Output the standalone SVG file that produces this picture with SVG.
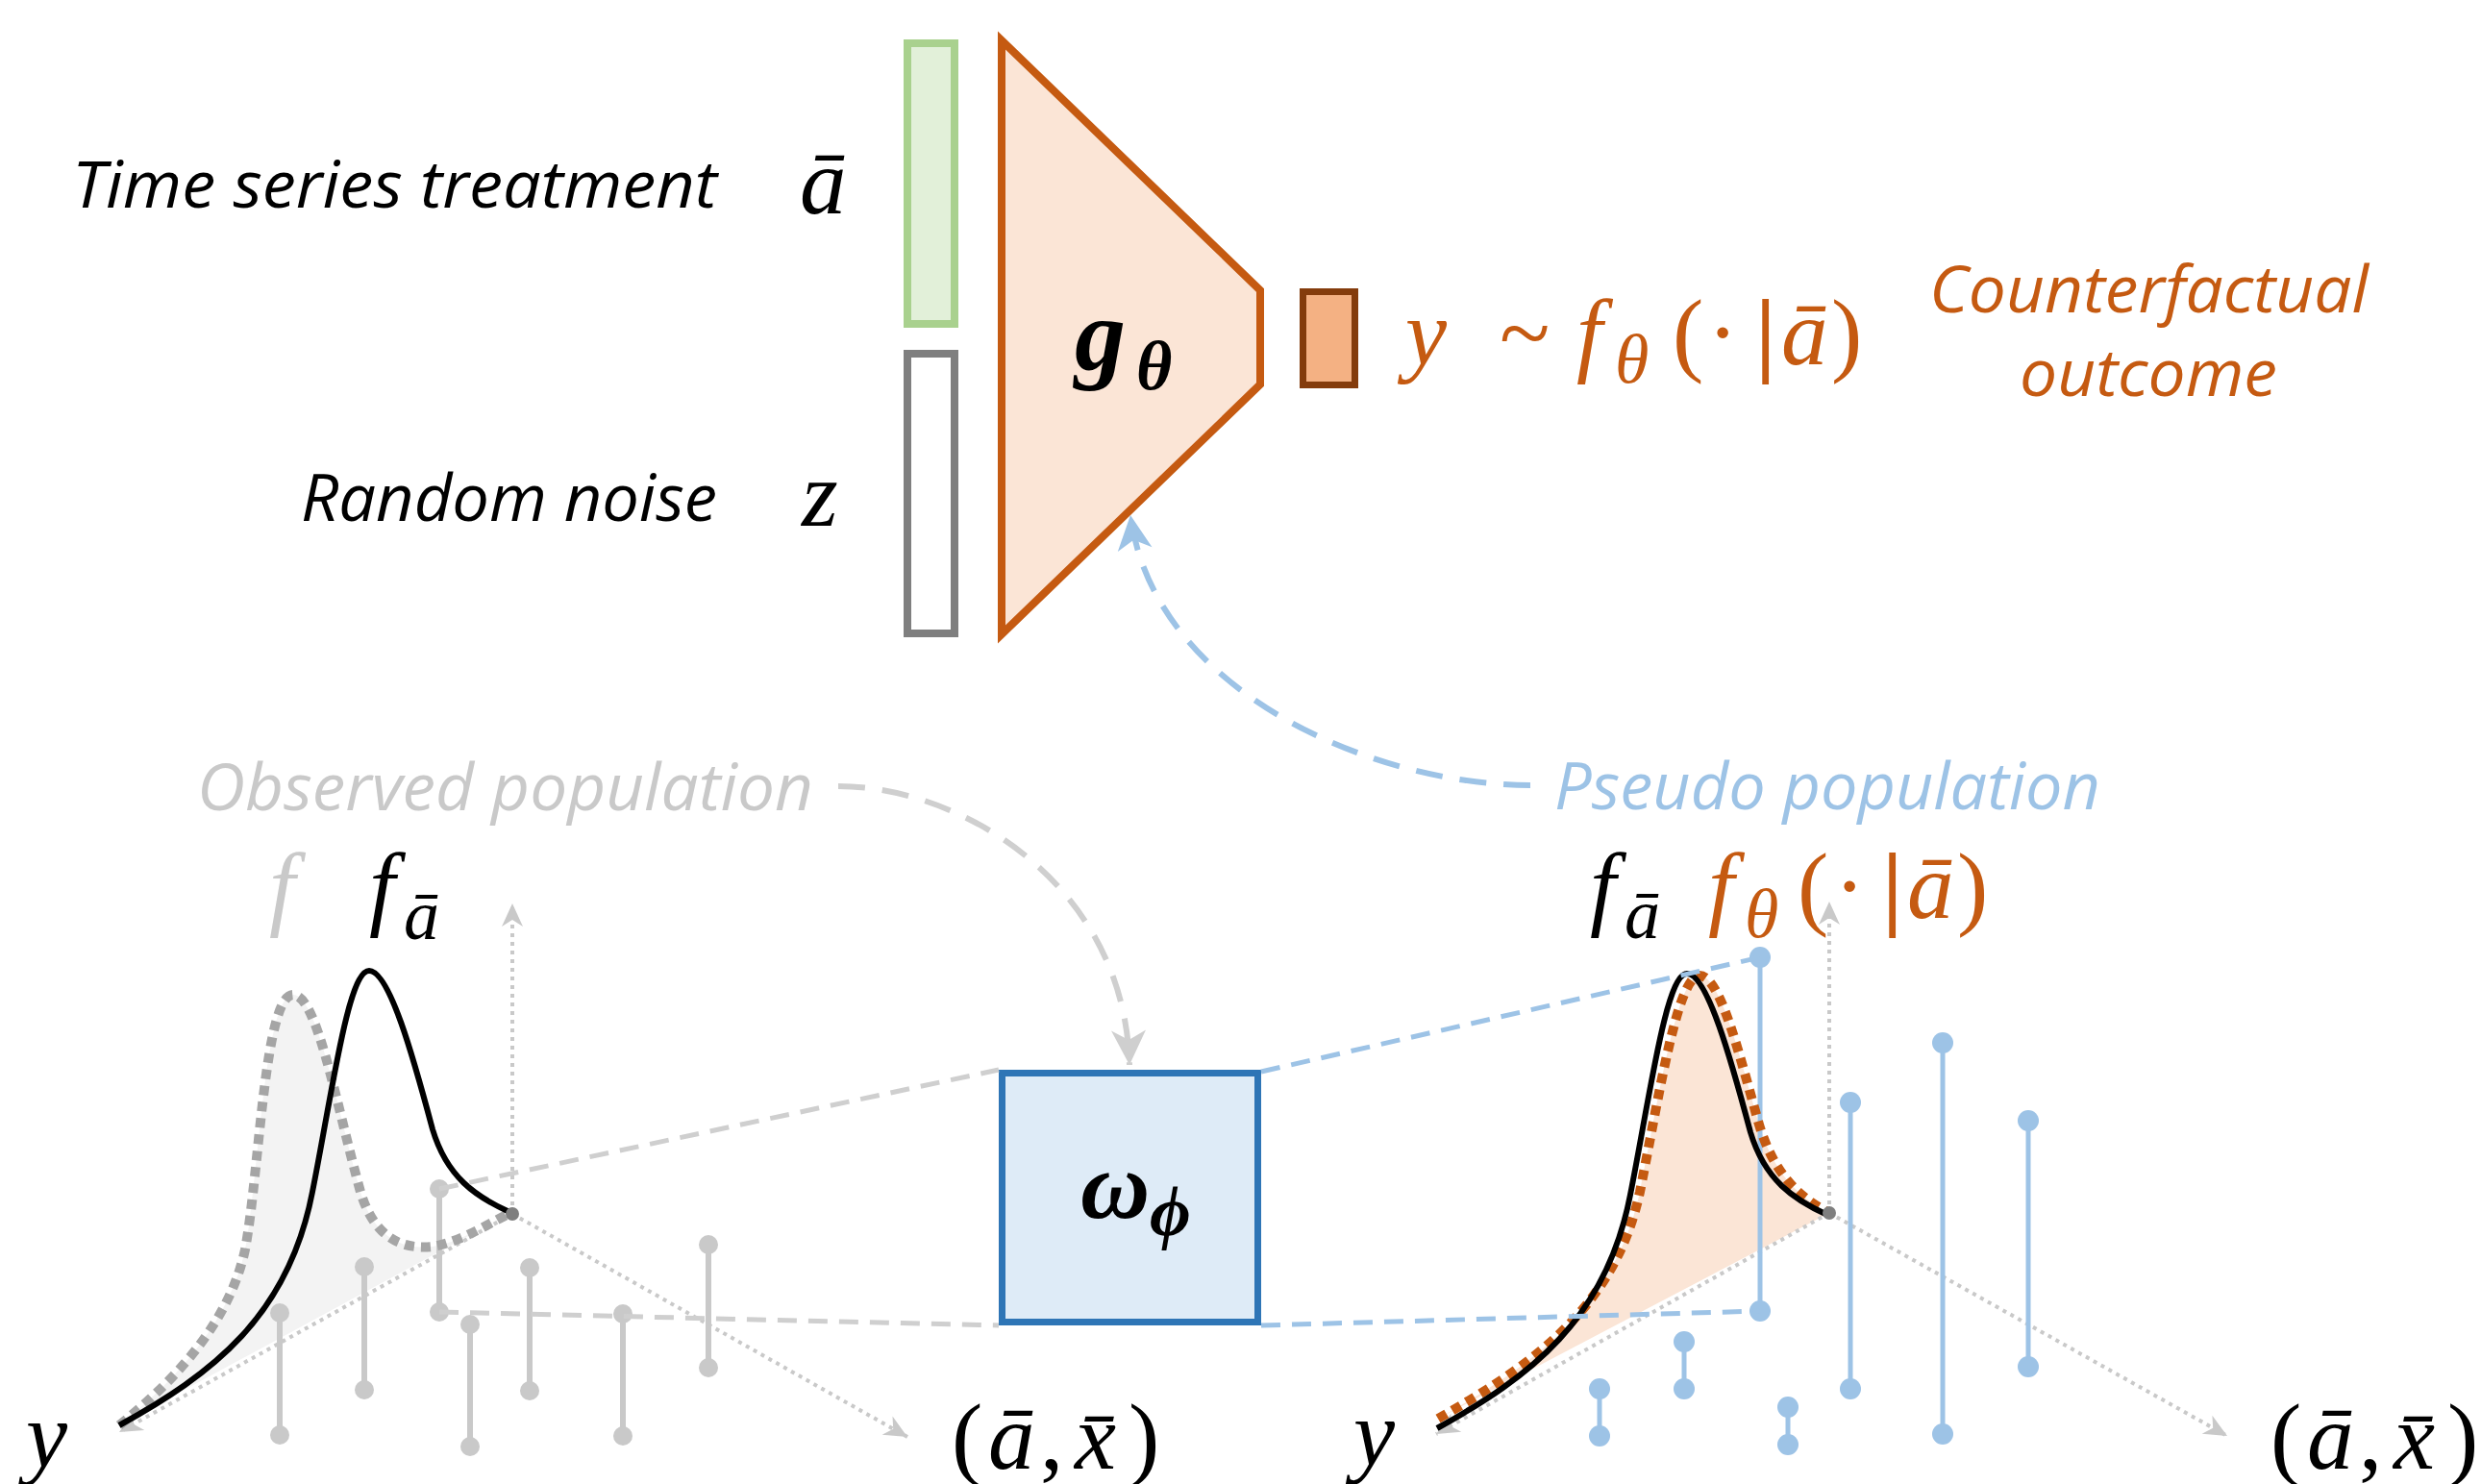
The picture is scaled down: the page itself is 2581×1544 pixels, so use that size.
<svg xmlns="http://www.w3.org/2000/svg" width="2581" height="1544" viewBox="0 0 2581 1544">
<style>
.lbl{font-family:"Open Sans","Liberation Sans",sans-serif;font-style:italic;font-size:68px}
.m{font-family:"Liberation Serif","DejaVu Serif",serif;font-style:italic;font-size:97px}
.up{font-style:normal}
.sub{font-size:74px}
.bm{font-family:"Liberation Serif","DejaVu Serif",serif;font-style:italic;font-weight:bold}
.axis{fill:none;stroke:#C9C9C9;stroke-width:4;stroke-dasharray:4 5}
.gstem{stroke:#C9C9C9;stroke-width:6}
.gdot{fill:#C9C9C9}
.bstem{stroke:#9DC3E6;stroke-width:5}
.bdot{fill:#9DC3E6}
.gdash{fill:none;stroke:#CFCFCF;stroke-width:5;stroke-dasharray:20 12}
.bdash{fill:none;stroke:#9DC3E6;stroke-width:5;stroke-dasharray:20 12}
</style>
<defs>
<marker id="axArrow" markerUnits="userSpaceOnUse" viewBox="-26 -13 28 26" markerWidth="28" markerHeight="26" refX="0" refY="0" orient="auto">
<path d="M0,0 L-24,-11 L-17,0 L-24,11 Z" fill="#C9C9C9"/>
</marker>
<marker id="grayArrow" markerUnits="userSpaceOnUse" viewBox="-38 -20 40 40" markerWidth="40" markerHeight="40" refX="0" refY="0" orient="auto">
<path d="M0,0 L-36,-18 L-26,0 L-36,18 Z" fill="#CFCFCF"/>
</marker>
<marker id="blueArrow" markerUnits="userSpaceOnUse" viewBox="-38 -20 40 40" markerWidth="40" markerHeight="40" refX="0" refY="0" orient="auto">
<path d="M0,0 L-36,-18 L-26,0 L-36,18 Z" fill="#9DC3E6"/>
</marker>
</defs>
<rect width="2581" height="1544" fill="#FFFFFF"/>

<g id="label-treatment">
<text class="lbl" x="75" y="216" textLength="671" lengthAdjust="spacingAndGlyphs">Time series treatment</text>
<text class="m" x="832" y="222" font-size="100">ā</text>
</g>
<g id="label-noise">
<text class="lbl" x="313" y="542" textLength="433" lengthAdjust="spacingAndGlyphs">Random noise</text>
<text class="m" x="834" y="547" font-size="100">z</text>
</g>

<g id="input-a"><rect x="944" y="45" width="49" height="292" fill="#E2F0D9" stroke="#A9D18E" stroke-width="8"/></g>
<g id="input-z"><rect x="944" y="368" width="49" height="291" fill="#FFFFFF" stroke="#7F7F7F" stroke-width="8"/></g>

<g id="generator">
<polygon points="1042,42 1311,302 1311,400 1042,660" fill="#FBE5D6" stroke="#C55A11" stroke-width="8" stroke-linejoin="miter"/>
<text class="bm" x="1118" y="384" font-size="106">g<tspan x="1182" y="405" font-size="72">θ</tspan></text>
</g>

<g id="output">
<rect x="1355.5" y="303.5" width="54" height="97" fill="#F4B183" stroke="#843C0C" stroke-width="7"/>
<text class="m" y="379" fill="#C55A11"><tspan x="1462">y</tspan><tspan class="up" x="1560">~</tspan><tspan x="1640">f</tspan><tspan x="1680" y="398" font-size="72">θ</tspan><tspan class="up" x="1740" y="379">(</tspan><tspan class="up" x="1776">·</tspan><tspan class="up" x="1826" font-weight="bold">|</tspan><tspan x="1853">ā</tspan><tspan class="up" x="1905">)</tspan></text>
</g>

<g id="label-counterfactual">
<text class="lbl" x="2007" y="325" fill="#C55A11" textLength="457" lengthAdjust="spacingAndGlyphs">Counterfactual</text>
<text class="lbl" x="2101" y="412" fill="#C55A11" textLength="268" lengthAdjust="spacingAndGlyphs">outcome</text>
</g>

<g id="label-observed">
<text class="lbl" x="205" y="843" fill="#C9C9C9" textLength="641" lengthAdjust="spacingAndGlyphs">Observed population</text>
</g>
<g id="label-pseudo">
<text class="lbl" x="1617" y="842" fill="#9DC3E6" textLength="568" lengthAdjust="spacingAndGlyphs">Pseudo population</text>
</g>

<g id="weight-net">
<rect x="1042.5" y="1116.5" width="266" height="259" fill="#DEEBF7" stroke="#2E75B6" stroke-width="7"/>
<text class="bm" x="1124" y="1267" font-size="100">ω<tspan x="1196" y="1285" font-size="74">ϕ</tspan></text>
</g>

<g id="observed-plot">
<path d="M124 1483 C190 1430 240 1370 255 1300 C270 1220 275 1035 305 1035 C330 1035 350 1150 375 1240 C390 1290 420 1300 450 1297 C480 1292 510 1272 531 1262 Z" fill="#F3F3F3"/>
<path class="axis" d="M533 1263 L533 940" marker-end="url(#axArrow)"/>
<path class="axis" d="M533 1263 L124 1490" marker-end="url(#axArrow)"/>
<path class="axis" d="M533 1263 L944 1495" marker-end="url(#axArrow)"/>
<g>
<line class="gstem" x1="291" y1="1366" x2="291" y2="1493"/><circle class="gdot" cx="291" cy="1366" r="10"/><circle class="gdot" cx="291" cy="1493" r="10"/>
<line class="gstem" x1="379" y1="1318" x2="379" y2="1446"/><circle class="gdot" cx="379" cy="1318" r="10"/><circle class="gdot" cx="379" cy="1446" r="10"/>
<line class="gstem" x1="457" y1="1237" x2="457" y2="1365"/><circle class="gdot" cx="457" cy="1237" r="10"/><circle class="gdot" cx="457" cy="1365" r="10"/>
<line class="gstem" x1="489" y1="1378" x2="489" y2="1505"/><circle class="gdot" cx="489" cy="1378" r="10"/><circle class="gdot" cx="489" cy="1505" r="10"/>
<line class="gstem" x1="551" y1="1319" x2="551" y2="1447"/><circle class="gdot" cx="551" cy="1319" r="10"/><circle class="gdot" cx="551" cy="1447" r="10"/>
<line class="gstem" x1="648" y1="1367" x2="648" y2="1494"/><circle class="gdot" cx="648" cy="1367" r="10"/><circle class="gdot" cx="648" cy="1494" r="10"/>
<line class="gstem" x1="737" y1="1295" x2="737" y2="1423"/><circle class="gdot" cx="737" cy="1295" r="10"/><circle class="gdot" cx="737" cy="1423" r="10"/>
</g>
<path d="M124 1483 C190 1430 240 1370 255 1300 C270 1220 275 1035 305 1035 C330 1035 350 1150 375 1240 C390 1290 420 1300 450 1297 C480 1292 510 1272 531 1262" fill="none" stroke="#A5A5A5" stroke-width="10" stroke-dasharray="10 7"/>
<path d="M124 1483 C220 1430 300 1370 325 1240 C345 1140 362 1010 384 1010 C405 1010 430 1100 450 1175 C465 1225 495 1245 530 1261" fill="none" stroke="#000000" stroke-width="6"/>
<circle cx="533" cy="1263" r="7" fill="#7F7F7F"/>
<text class="m" x="280" y="955" fill="#C9C9C9">f</text>
<text class="m" x="384" y="955">f<tspan class="sub" x="420" y="977">ā</tspan></text>
<text class="m" x="27" y="1526">y</text>
<text class="m" y="1528"><tspan class="up" x="990">(</tspan><tspan x="1028">ā</tspan><tspan class="up" x="1082">,</tspan><tspan x="1118">x̄</tspan><tspan class="up" x="1174">)</tspan></text>
</g>

<g id="pseudo-plot">
<path d="M1496 1476 C1595 1420 1680 1360 1706 1240 C1726 1140 1745 1015 1768 1015 C1790 1015 1810 1100 1830 1170 C1845 1220 1870 1245 1903 1262 Z" fill="#FBE5D6"/>
<path class="axis" d="M1903 1262 L1903 938" marker-end="url(#axArrow)"/>
<path class="axis" d="M1903 1262 L1494 1492" marker-end="url(#axArrow)"/>
<path class="axis" d="M1903 1262 L2317 1494" marker-end="url(#axArrow)"/>
<g>
<line class="bstem" x1="1664" y1="1445" x2="1664" y2="1494"/><circle class="bdot" cx="1664" cy="1445" r="11"/><circle class="bdot" cx="1664" cy="1494" r="11"/>
<line class="bstem" x1="1752" y1="1396" x2="1752" y2="1445"/><circle class="bdot" cx="1752" cy="1396" r="11"/><circle class="bdot" cx="1752" cy="1445" r="11"/>
<line class="bstem" x1="1831" y1="996" x2="1831" y2="1364"/><circle class="bdot" cx="1831" cy="996" r="11"/><circle class="bdot" cx="1831" cy="1364" r="11"/>
<line class="bstem" x1="1860" y1="1464" x2="1860" y2="1503"/><circle class="bdot" cx="1860" cy="1464" r="11"/><circle class="bdot" cx="1860" cy="1503" r="11"/>
<line class="bstem" x1="1925" y1="1147" x2="1925" y2="1445"/><circle class="bdot" cx="1925" cy="1147" r="11"/><circle class="bdot" cx="1925" cy="1445" r="11"/>
<line class="bstem" x1="2021" y1="1085" x2="2021" y2="1492"/><circle class="bdot" cx="2021" cy="1085" r="11"/><circle class="bdot" cx="2021" cy="1492" r="11"/>
<line class="bstem" x1="2110" y1="1166" x2="2110" y2="1422"/><circle class="bdot" cx="2110" cy="1166" r="11"/><circle class="bdot" cx="2110" cy="1422" r="11"/>
</g>
<path d="M1496 1476 C1595 1420 1680 1360 1706 1240 C1726 1140 1745 1015 1768 1015 C1790 1015 1810 1100 1830 1170 C1845 1220 1870 1245 1903 1262" fill="none" stroke="#C55A11" stroke-width="10" stroke-dasharray="10 7"/>
<path d="M1495 1486 C1591 1433 1671 1373 1696 1243 C1716 1143 1733 1013 1755 1013 C1776 1013 1801 1103 1821 1178 C1836 1228 1866 1248 1901 1264" fill="none" stroke="#000000" stroke-width="6"/>
<circle cx="1903" cy="1262" r="7" fill="#7F7F7F"/>
<text class="m" x="1654" y="955">f<tspan class="sub" x="1690" y="976">ā</tspan></text>
<text class="m" y="955" fill="#C55A11"><tspan x="1777">f</tspan><tspan x="1815" y="975" font-size="72">θ</tspan><tspan class="up" x="1870" y="955">(</tspan><tspan class="up" x="1908">·</tspan><tspan class="up" x="1958" font-weight="bold">|</tspan><tspan x="1984">ā</tspan><tspan class="up" x="2036">)</tspan></text>
<text class="m" x="1408" y="1524">y</text>
<text class="m" y="1528"><tspan class="up" x="2362">(</tspan><tspan x="2400">ā</tspan><tspan class="up" x="2454">,</tspan><tspan x="2490">x̄</tspan><tspan class="up" x="2546">)</tspan></text>
</g>

<g id="connectors">
<path class="gdash" d="M457 1237 L1039 1113"/>
<path class="gdash" d="M457 1365 L1039 1379"/>
<path class="bdash" d="M1312 1115 L1831 996"/>
<path class="bdash" d="M1312 1379 L1831 1364"/>
<path d="M872 818 C1000 818 1170 920 1175 1108" fill="none" stroke="#CFCFCF" stroke-width="6" stroke-dasharray="28 18" marker-end="url(#grayArrow)"/>
<path d="M1592 817 C1430 817 1200 720 1176 536" fill="none" stroke="#9DC3E6" stroke-width="6" stroke-dasharray="28 18" marker-end="url(#blueArrow)"/>
</g>
</svg>
